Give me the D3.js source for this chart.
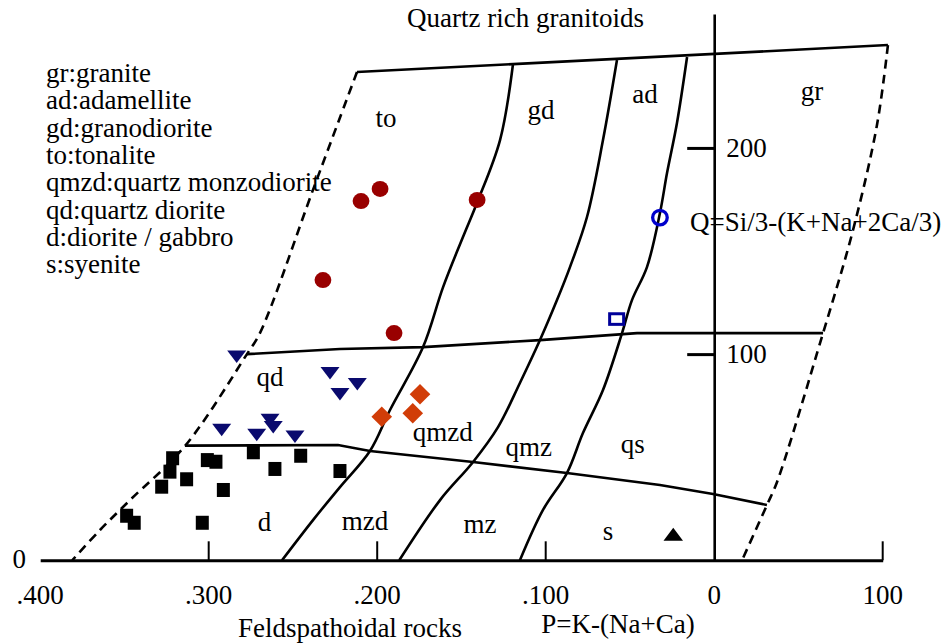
<!DOCTYPE html>
<html>
<head>
<meta charset="utf-8">
<script src="https://cdn.jsdelivr.net/npm/d3@7/dist/d3.min.js"></script>
<style>
  html, body { margin: 0; padding: 0; background: #fff; }
  svg { display: block; }
  text { font-family: 'Liberation Serif', 'Times New Roman', serif; fill: #000; }
</style>
</head>
<body>
<svg id="chart" width="950" height="644"></svg>
<script>
// ---------- DATA (P, Q units) ----------
const xTickValues = [-400, -300, -200, -100, 0, 100];
const xTickLabels = [".400", ".300", ".200", ".100", "0", "100"];
const yTickValues = [100, 200];
const yTickLabels = ["100", "200"];

const legendLines = [
  "gr:granite", "ad:adamellite", "gd:granodiorite", "to:tonalite",
  "qmzd:quartz monzodiorite", "qd:quartz diorite", "d:diorite / gabbro", "s:syenite"
];

// outer (dashed) limits
const leftLimit = [[-212, 236.8], [-237.5, 181], [-269.6, 110.2], [-277.3, 100], [-314.1, 55.4], [-346.7, 29.2], [-364.5, 14.7], [-381, 0]];
const rightLimit = [[103.1, 249.9], [96.6, 211.1], [82.4, 160.2], [64.6, 110.2], [37.3, 38.0], [31.3, 26.8], [16.5, 0]];
// solid limits
const topLimit = [[-212, 236.8], [103.1, 249.9]];
const upperBoundary = [[-277.3, 100], [-222.1, 102.5], [-172.8, 103.4], [-103.4, 106.8], [-54.1, 109.7], [-45.8, 110.2], [64.6, 110.2]];
const lowerBoundary = [[-314.1, 55.6], [-223.3, 55.9], [-204.3, 53.0], [-143.1, 47.7], [-87.4, 42.3], [-32.2, 36.5], [-0.7, 32.2], [31.3, 26.8]];
const curve1 = [[-119.4, 240.7], [-127.1, 203.8], [-140.8, 173.3], [-149.1, 156.8], [-160.9, 132.5], [-172.8, 103.4], [-192.4, 72.9], [-204.3, 53.0], [-222.1, 35.5], [-238.1, 19.5], [-256.5, 0]];
const curve2 = [[-57.7, 242.6], [-66.0, 203.8], [-75.5, 166.5], [-85.6, 142.2], [-93.3, 126.2], [-103.4, 106.8], [-115.3, 86.0], [-128.3, 64.6], [-143.1, 47.7], [-162.7, 29.2], [-186.9, 0]];
const curve3 = [[-16.1, 244.1], [-22.1, 212.1], [-28.0, 187.8], [-32.2, 168.4], [-39.9, 142.2], [-48.8, 126.2], [-54.7, 110.2], [-66.0, 82.6], [-77.9, 61.7], [-87.4, 42.3], [-101.6, 24.4], [-115.3, 0]];

// samples
const redCircles = [[-209.6, 174.2], [-198.3, 180.1], [-140.7, 174.8], [-232.2, 135.9], [-190.0, 110.2]];
const navyTriangles = [[-283.4, 98.7], [-228.0, 90.7], [-211.8, 85.4], [-222.1, 80.5], [-292.3, 63.2], [-271.5, 60.8], [-263.6, 68.0], [-261.7, 64.5], [-248.8, 59.9]];
const orangeDiamonds = [[-174.6, 80.5], [-197.3, 69.6], [-178.9, 71.3]];
const blackSquares = [[-321.4, 49.5], [-323.0, 43.0], [-327.9, 35.7], [-313.1, 39.3], [-300.8, 48.6], [-295.7, 47.8], [-273.5, 52.4], [-260.7, 44.3], [-245.4, 50.7], [-222.1, 43.3], [-291.3, 34.1], [-348.7, 21.6], [-344.2, 18.2], [-303.8, 18.2]];
const blueOpenCircles = [[-32.2, 166.2]];
const blueOpenSquares = [[-57.9, 117.0]];
const blackTriangles = [[-24.3, 12.6]];

// region labels
const regionLabels = [
  {t: "to", p: [-194.8, 210.3]}, {t: "gd", p: [-102.8, 214.0]}, {t: "ad", p: [-41.1, 222.0]},
  {t: "gr", p: [58.0, 223.2]}, {t: "qd", p: [-263.6, 84.7]}, {t: "qmzd", p: [-161.1, 58.0]},
  {t: "qmz", p: [-110.1, 50.6]}, {t: "qs", p: [-48.4, 52.2]}, {t: "d", p: [-266.9, 14.0]},
  {t: "mzd", p: [-207.3, 14.7]}, {t: "mz", p: [-139.0, 13.1]}, {t: "s", p: [-63.0, 9.9]}
];

// ---------- DRAW ----------
const svg = d3.select("#chart");
const x = d3.scaleLinear().domain([-400, 100]).range([40.2, 882.7]);
const y = d3.scaleLinear().domain([0, 265]).range([560.3, 13.9]);
const FS = 27;
const SW = 2.6;

svg.append("rect").attr("width", 950).attr("height", 644).attr("fill", "#fff");

const lin = d3.line().x(d => x(d[0])).y(d => y(d[1]));
const smooth = d3.line().x(d => x(d[0])).y(d => y(d[1])).curve(d3.curveCatmullRom.alpha(0.5));

const g = svg.append("g");

// dashed limits
[leftLimit, rightLimit].forEach(arr => {
  g.append("path").attr("d", smooth(arr)).attr("fill", "none").attr("stroke", "#000")
    .attr("stroke-width", SW).attr("stroke-dasharray", "9,6");
});
// solid limits
[topLimit, upperBoundary, lowerBoundary].forEach(arr => {
  g.append("path").attr("d", lin(arr)).attr("fill", "none").attr("stroke", "#000").attr("stroke-width", SW);
});
[curve1, curve2, curve3].forEach(arr => {
  g.append("path").attr("d", smooth(arr)).attr("fill", "none").attr("stroke", "#000").attr("stroke-width", SW);
});

// axes
const xAxis = d3.axisBottom(x).tickValues([]).tickSizeOuter(0);
const xg = svg.append("g").attr("transform", `translate(0,${y(0)})`).call(xAxis);
xg.select(".domain").attr("stroke", "#000").attr("stroke-width", 3);
// x ticks (upward)
svg.append("g").selectAll("line").data(xTickValues.filter(v => v !== -400 && v !== 0)).join("line")
  .attr("x1", d => x(d)).attr("x2", d => x(d)).attr("y1", y(0)).attr("y2", y(0) - 19)
  .attr("stroke", "#000").attr("stroke-width", 2);
svg.append("g").selectAll("text").data(xTickValues).join("text")
  .attr("x", d => x(d)).attr("y", 604).attr("text-anchor", "middle").attr("font-size", FS)
  .text((d, i) => xTickLabels[i]);

// y axis at P = 0
const yAxis = d3.axisLeft(y).tickValues(yTickValues).tickSize(27).tickFormat("").tickSizeOuter(0);
const yg = svg.append("g").attr("transform", `translate(${x(0)},0)`).call(yAxis);
yg.select(".domain").attr("stroke", "#000").attr("stroke-width", 2.6);
yg.selectAll(".tick line").attr("stroke", "#000").attr("stroke-width", 3);
svg.append("g").selectAll("text").data(yTickValues).join("text")
  .attr("x", x(0) + 12).attr("y", d => y(d) + 9).attr("font-size", FS)
  .text((d, i) => yTickLabels[i]);
svg.append("text").attr("x", x(-400) - 21).attr("y", y(0) + 8).attr("text-anchor", "middle")
  .attr("font-size", FS).text("0");

// region labels
svg.append("g").selectAll("text").data(regionLabels).join("text")
  .attr("x", d => x(d.p[0])).attr("y", d => y(d.p[1])).attr("text-anchor", "middle")
  .attr("font-size", FS).text(d => d.t);

// titles
svg.append("text").attr("x", 407).attr("y", 27).attr("font-size", FS).text("Quartz rich granitoids");
svg.append("text").attr("x", 690).attr("y", 231).attr("font-size", FS).text("Q=Si/3-(K+Na+2Ca/3)");
svg.append("text").attr("x", 350).attr("y", 637).attr("text-anchor", "middle").attr("font-size", FS).text("Feldspathoidal rocks");
svg.append("text").attr("x", 618).attr("y", 633).attr("text-anchor", "middle").attr("font-size", FS).text("P=K-(Na+Ca)");

// legend text
svg.append("g").selectAll("text").data(legendLines).join("text")
  .attr("x", 46).attr("y", (d, i) => 82 + i * 27.3).attr("font-size", FS).text(d => d);

// ---------- MARKERS ----------
const m = svg.append("g");
m.selectAll(".rc").data(redCircles).join("ellipse").attr("class", "rc")
  .attr("cx", d => x(d[0])).attr("cy", d => y(d[1])).attr("rx", 8.4).attr("ry", 8)
  .attr("fill", "#990000");

const triDown = (cx, cy, w, h) => `M${cx - w / 2},${cy - h / 2}L${cx + w / 2},${cy - h / 2}L${cx},${cy + h / 2}Z`;
const triUp = (cx, cy, w, h) => `M${cx - w / 2},${cy + h / 2}L${cx + w / 2},${cy + h / 2}L${cx},${cy - h / 2}Z`;
m.selectAll(".nt").data(navyTriangles).join("path").attr("class", "nt")
  .attr("d", d => triDown(x(d[0]), y(d[1]), 19, 12.5)).attr("fill", "#0a0a6e");

m.selectAll(".od").data(orangeDiamonds).join("path").attr("class", "od")
  .attr("d", d => { const cx = x(d[0]), cy = y(d[1]), r = 10.3; return `M${cx},${cy - r}L${cx + r},${cy}L${cx},${cy + r}L${cx - r},${cy}Z`; })
  .attr("fill", "#d13d08");

m.selectAll(".bs").data(blackSquares).join("rect").attr("class", "bs")
  .attr("x", d => x(d[0]) - 6.5).attr("y", d => y(d[1]) - 7).attr("width", 13).attr("height", 14)
  .attr("fill", "#000");

m.selectAll(".boc").data(blueOpenCircles).join("circle").attr("class", "boc")
  .attr("cx", d => x(d[0])).attr("cy", d => y(d[1])).attr("r", 7.3)
  .attr("fill", "none").attr("stroke", "#0000cc").attr("stroke-width", 3.3);

m.selectAll(".bos").data(blueOpenSquares).join("rect").attr("class", "bos")
  .attr("x", d => x(d[0]) - 7).attr("y", d => y(d[1]) - 5.3).attr("width", 14).attr("height", 10.6)
  .attr("fill", "none").attr("stroke", "#000099").attr("stroke-width", 3);

m.selectAll(".bt").data(blackTriangles).join("path").attr("class", "bt")
  .attr("d", d => triUp(x(d[0]), y(d[1]), 19.5, 13)).attr("fill", "#000");
</script>
</body>
</html>
